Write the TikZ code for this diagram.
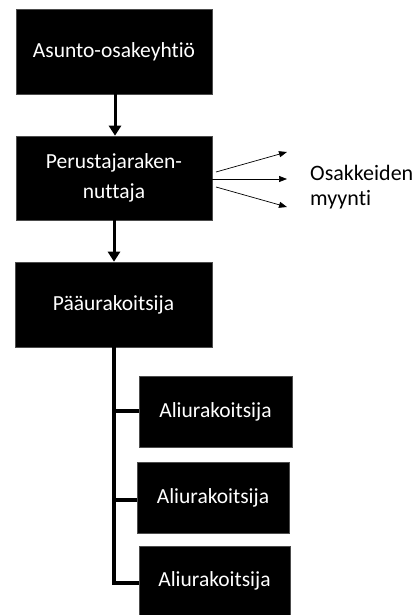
\documentclass[tikz,border=0pt]{standalone}
\usepackage{fontspec}
\setmainfont[Ligatures=NoCommon]{Carlito}
\usetikzlibrary{arrows.meta}
\begin{document}
\begin{tikzpicture}[x=1pt,y=-1pt,
  box/.style={fill=black,draw=black!70,line width=0.6pt,text=white,inner sep=0pt,font=\fontsize{21.5}{30}\selectfont,align=center},
  thick arrow/.style={line width=3pt,-{Triangle[length=10pt,width=12pt]}},
  thin arrow/.style={line width=0.7pt,-{Triangle[length=8pt,width=6pt]}},
  stem/.style={line width=3.5pt}]
\useasboundingbox (0,0) rectangle (419,615);
\node[box,minimum width=196pt,minimum height=85pt] (a) at (114,51.5) {Asunto-osakeyhtiö};
\node[box,minimum width=196pt,minimum height=84pt] (p) at (114,178) {Perustajaraken-\\nuttaja};
\node[box,minimum width=197pt,minimum height=85pt] (u) at (113.5,304.5) {Pääurakoitsija};
\node[box,minimum width=153pt,minimum height=71pt] (s1) at (215.5,411.5) {Aliurakoitsija};
\node[box,minimum width=152pt,minimum height=71pt] (s2) at (213,497.5) {Aliurakoitsija};
\node[box,minimum width=151pt,minimum height=70pt] (s3) at (214.5,581) {Aliurakoitsija};
\node[anchor=west,align=left,inner sep=0pt,font=\fontsize{22}{25}\selectfont] (t) at (310,187) {Osakkeiden\\myynti};
\draw[thick arrow] (a.south -| 115,0) -- (p.north -| 115,0);
\draw[thick arrow] (p.south -| 114,0) -- (u.north -| 114,0);
\coordinate (r1) at (287,152);
\coordinate (r2) at (287,179);
\coordinate (r3) at (287,207);
\draw[thin arrow] (216,172) -- (r1);
\draw[thin arrow] (p.east |- 0,179) -- (r2);
\draw[thin arrow] (216,187) -- (r3);
\coordinate (b) at (114,585);
\draw[stem] (u.south -| 114,0) -- (b);
\draw[stem] (114,411) -- (s1.west |- 0,411);
\draw[stem] (114,500) -- (s2.west |- 0,500);
\draw[stem] (114,583) -- (s3.west |- 0,583);
\end{tikzpicture}
\end{document}
